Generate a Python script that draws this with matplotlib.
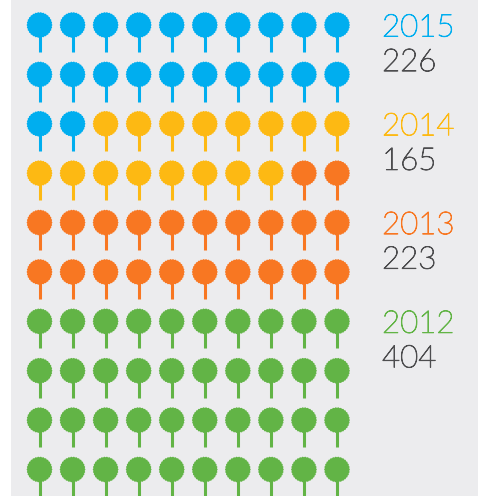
import numpy as np
import matplotlib
matplotlib.use("Agg")
import matplotlib.pyplot as plt
import matplotlib.patheffects as pe
from matplotlib.path import Path

years = ["2015", "2014", "2013", "2012"]
totals = ["226", "165", "223", "404"]
tree_counts = [22, 16, 22, 40]
colors = ["#00AEEF", "#FDB913", "#F87722", "#62B446"]

n_cols = 10
n_rows = 10


def scalloped_marker(n=30, depth=0.05):
    t = np.linspace(0, 2 * np.pi, n * 6, endpoint=False)
    r = 1 - depth * (0.5 - 0.5 * np.cos(n * t))
    verts = np.column_stack([r * np.cos(t), r * np.sin(t)])
    verts = np.vstack([verts, verts[0]])
    return Path(verts, closed=True)


fig = plt.figure(figsize=(4.78, 4.96), dpi=100, facecolor="white")
bg = fig.add_axes([11 / 478, 0, 467 / 478, 1])
bg.set_facecolor("#ECECEE")
bg.set_xticks([])
bg.set_yticks([])
for s in bg.spines.values():
    s.set_visible(False)

# one unit = one tree, col 0 at x=39.5px, col 9 at x=337px
ax = fig.add_axes([0, 0, 1, 1])
ax.patch.set_alpha(0)
ax.axis("off")
dx = (337 - 39.5) / 9
dy = (469.5 - 25) / 9
ax.set_xlim(-39.5 / dx, (478 - 39.5) / dx)
ax.set_ylim((496 - 25) / dy, -25 / dy)

cols, rows = np.meshgrid(np.arange(n_cols), np.arange(n_rows))
cols = cols.ravel()
rows = rows.ravel()
tree_colors = np.repeat(colors, tree_counts)

ax.vlines(cols, rows, rows + 0.55, colors=tree_colors, linewidth=2.2)
ax.scatter(cols, rows, marker=scalloped_marker(), s=345, c=tree_colors, linewidths=0)

# labels sit next to the first row of each year's block
label_rows = [0, 2, 4, 6]
for year, total, color, r in zip(years, totals, colors, label_rows):
    x = (382 - 39.5) / dx
    t1 = ax.text(x, r + 0.06, year, color=color, fontsize=22.5, family="Lato",
                 fontweight="light", va="center", ha="left")
    t2 = ax.text(x, r + 0.76, total, color="#4D4D4F", fontsize=22.5, family="Lato",
                 fontweight="light", va="center", ha="left")
    # lato light is a bit too thin at this size
    t1.set_path_effects([pe.withStroke(linewidth=0.7, foreground=color)])
    t2.set_path_effects([pe.withStroke(linewidth=0.7, foreground="#4D4D4F")])

fig.savefig("out.png", dpi=100)
